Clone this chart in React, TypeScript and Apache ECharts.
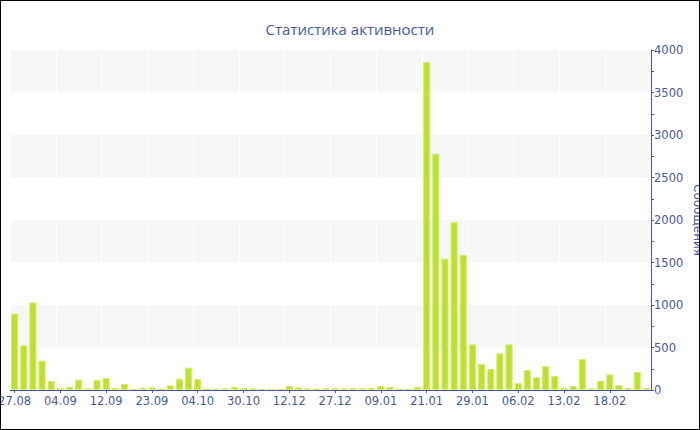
import React, { useEffect, useRef } from "react";
import * as echarts from "echarts";

const titleText = "Статистика активности";
const axisName = "Сообщения";

const dates = [
  "27.08", "28.08", "29.08", "31.08", "02.09",
  "04.09", "05.09", "07.09", "09.09", "10.09",
  "12.09", "14.09", "16.09", "19.09", "21.09",
  "23.09", "25.09", "28.09", "01.10", "02.10",
  "04.10", "07.10", "12.10", "18.10", "24.10",
  "30.10", "08.11", "17.11", "25.11", "03.12",
  "12.12", "15.12", "19.12", "22.12", "24.12",
  "27.12", "29.12", "31.12", "03.01", "06.01",
  "09.01", "11.01", "14.01", "16.01", "19.01",
  "21.01", "22.01", "23.01", "25.01", "27.01",
  "29.01", "31.01", "01.02", "03.02", "05.02",
  "06.02", "08.02", "09.02", "10.02", "12.02",
  "13.02", "14.02", "15.02", "16.02", "17.02",
  "18.02", "19.02", "20.02", "21.02", "22.02",
];

const messages = [
  900, 525, 1030, 345, 106,
  27, 39, 122, 20, 118,
  141, 27, 71, 12, 27,
  31, 16, 55, 133, 263,
  129, 16, 16, 20, 35,
  24, 20, 12, 12, 12,
  47, 31, 20, 16, 24,
  20, 20, 24, 20, 24,
  47, 35, 16, 12, 35,
  3860, 2780, 1545, 1975, 1590,
  537, 306, 247, 431, 537,
  82, 235, 149, 282, 165,
  27, 47, 365, 20, 110,
  184, 59, 24, 212, 24,
];

const yTicks = [0, 500, 1000, 1500, 2000, 2500, 3000, 3500, 4000];

const BLUE = "#4657a5";
const FONT = "'DejaVu Sans', Verdana, sans-serif";

export default function App() {
  const ref = useRef<HTMLDivElement>(null);

  useEffect(() => {
    if (!ref.current) return;
    const chart = echarts.init(ref.current, undefined, { renderer: "svg" });
    chart.setOption({
      animation: false,
      backgroundColor: "#ffffff",
      title: {
        text: titleText,
        left: "center",
        top: 16,
        textStyle: {
          color: BLUE,
          fontSize: 15,
          fontWeight: "normal",
          fontFamily: "'Open Sans', 'Noto Sans', sans-serif",
        },
      },
      grid: { left: 10, right: 49, top: 50, bottom: 40, outerBoundsMode: "none", containLabel: false },
      xAxis: {
        type: "category",
        data: dates,
        axisLine: { lineStyle: { color: BLUE, width: 1 } },
        axisTick: { show: true, interval: 4, alignWithLabel: true, length: 3, lineStyle: { color: BLUE } },
        axisLabel: { interval: 4, color: BLUE, fontSize: 11.5, fontFamily: FONT, margin: 5, hideOverlap: false },
        splitLine: { show: true, interval: 4, lineStyle: { color: "#ffffff", width: 1 } },
      },
      yAxis: {
        type: "value",
        position: "right",
        min: 0,
        max: yTicks[yTicks.length - 1],
        interval: 500,
        name: axisName,
        nameLocation: "middle",
        nameRotate: -90,
        nameGap: 41,
        nameMoveOverlap: false,
        nameTextStyle: { color: BLUE, fontSize: 12, fontFamily: FONT },
        axisLine: { show: true, lineStyle: { color: BLUE, width: 1 } },
        axisTick: { show: true, length: 3, lineStyle: { color: BLUE } },
        minorTick: { show: true, splitNumber: 2, length: 3, lineStyle: { color: BLUE } },
        axisLabel: {
          color: BLUE,
          fontSize: 11.5,
          fontFamily: FONT,
          margin: 3,
          formatter: (v: number) => String(v),
        },
        splitLine: { show: false },
        splitArea: { show: true, areaStyle: { color: ["#ffffff", "#f7f7f7"] } },
      },
      series: [
        {
          type: "bar",
          data: messages,
          barCategoryGap: "22%",
          itemStyle: { color: "#bde12e", borderColor: "#d3ee72", borderWidth: 1 },
        },
      ],
    });
    return () => chart.dispose();
  }, []);

  return (
    <div style={{ position: "fixed", left: 0, top: 0, width: 700, height: 430 }}>
      <div ref={ref} style={{ position: "absolute", left: 0, top: 0, width: 700, height: 430 }} />
      <div
        style={{
          position: "absolute",
          left: 0,
          top: 0,
          width: 700,
          height: 430,
          boxSizing: "border-box",
          border: "1px solid #000",
          pointerEvents: "none",
        }}
      />
    </div>
  );
}
